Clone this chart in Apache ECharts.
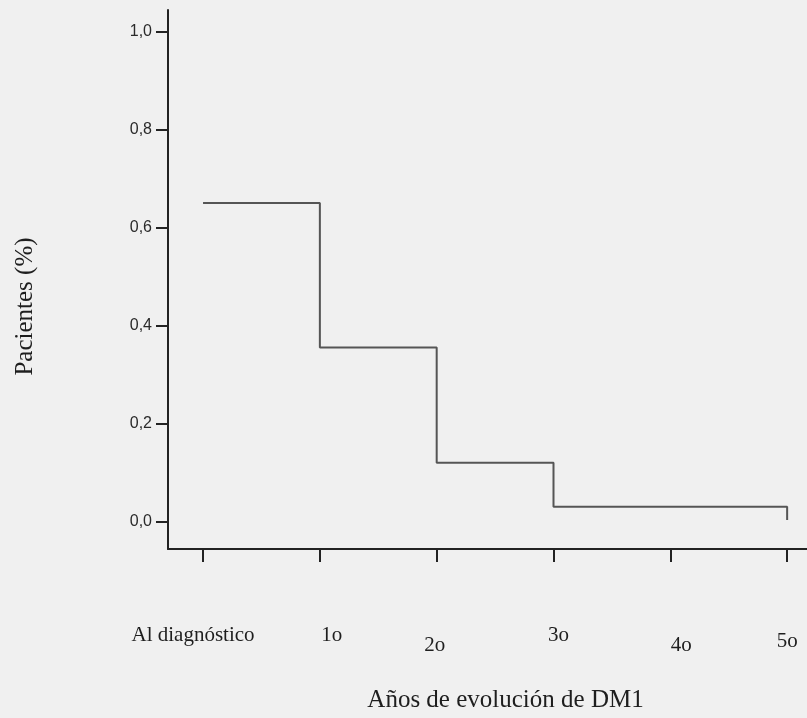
<!DOCTYPE html>
<html><head><meta charset="utf-8">
<script src="https://cdn.jsdelivr.net/npm/echarts@6/dist/echarts.min.js"></script>
<style>html,body{margin:0;padding:0;background:#f0f0f0}#c{width:807px;height:718px}</style>
</head><body><div id="c"></div>
<script>
var xLabels = ['Al diagnóstico', '1o', '2o', '3o', '4o', '5o'];
var xTickValues = [0, 1, 2, 3, 4, 5];
var stepX = [0, 1, 2, 3, 5];
var stepY = [0.65, 0.355, 0.12, 0.03, 0.003];
var yTickValues = [0, 0.2, 0.4, 0.6, 0.8, 1.0];
var yTickLabels = ['0,0', '0,2', '0,4', '0,6', '0,8', '1,0'];

// small per-label placement nudges seen in the scanned original [left, top]
var labelNudge = [[-20, 0], [24, -2], [-4, 10], [10, -6], [22, 10], [0, 6]];

var data = stepX.map(function (x, i) { return [x, stepY[i]]; });
var rich = {};
labelNudge.forEach(function (n, i) {
  rich['l' + i] = {
    fontFamily: 'Liberation Serif', fontSize: 21, color: '#1e1e1e',
    padding: [Math.max(n[1], 0), Math.max(-n[0], 0), Math.max(-n[1], 0), Math.max(n[0], 0)]
  };
});

var chart = echarts.init(document.getElementById('c'));
chart.setOption({
  backgroundColor: '#f0f0f0',
  animation: false,
  grid: { left: 168, right: 0, top: 10, bottom: 158 },
  xAxis: {
    type: 'value', min: -0.3, max: 5.17,
    name: 'Años de evolución de DM1', nameLocation: 'middle', nameGap: 139,
    nameTextStyle: { fontFamily: 'Liberation Serif', fontSize: 25, color: '#1e1e1e', padding: [0, 0, 0, 36] },
    axisLine: { show: true, onZero: false, lineStyle: { color: '#222', width: 2 } },
    axisTick: { show: true, customValues: xTickValues, length: 13, lineStyle: { color: '#222', width: 2 } },
    axisLabel: {
      customValues: xTickValues, margin: 76,
      fontFamily: 'Liberation Serif', fontSize: 21, color: '#1e1e1e',
      formatter: function (v) {
        var i = xTickValues.indexOf(Math.round(v));
        return i >= 0 ? '{l' + i + '|' + xLabels[i] + '}' : '';
      },
      rich: rich
    },
    splitLine: { show: false }
  },
  yAxis: {
    type: 'value', min: -0.056, max: 1.044,
    name: 'Pacientes (%)', nameLocation: 'middle', nameGap: 130, nameRotate: 90,
    nameTextStyle: { fontFamily: 'Liberation Serif', fontSize: 25, color: '#1e1e1e', padding: [0, 54, 0, 0] },
    axisLine: { show: true, onZero: false, lineStyle: { color: '#222', width: 2 } },
    axisTick: { show: true, customValues: yTickValues, length: 12, lineStyle: { color: '#222', width: 2 } },
    axisLabel: {
      customValues: yTickValues, margin: 16,
      fontFamily: 'Liberation Sans', fontSize: 16, color: '#2a2a2a',
      formatter: function (v) {
        var i = yTickValues.findIndex(function (t) { return Math.abs(t - v) < 1e-6; });
        return i >= 0 ? yTickLabels[i] : '';
      }
    },
    splitLine: { show: false }
  },
  series: [{
    type: 'line', step: 'end', data: data, symbol: 'none',
    lineStyle: { color: '#555', width: 2 }
  }]
});
</script></body></html>
